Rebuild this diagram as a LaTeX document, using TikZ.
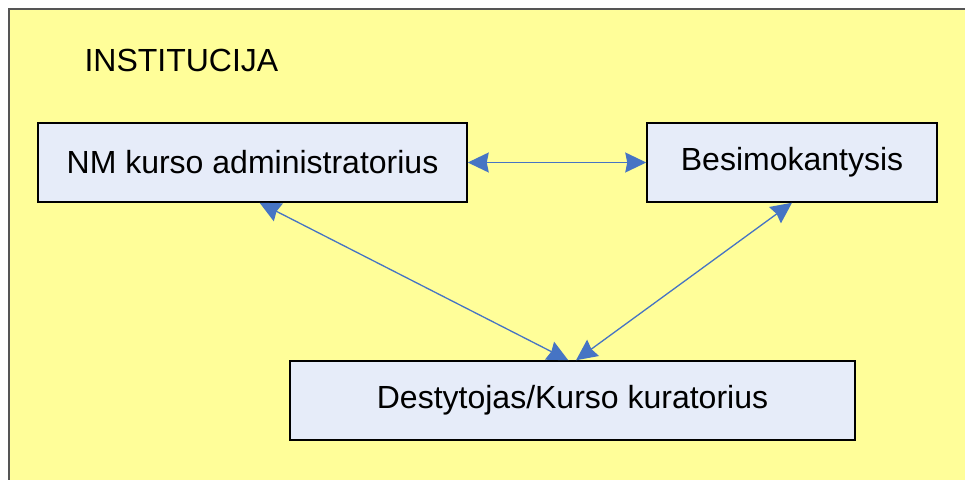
\documentclass[tikz,border=0pt]{standalone}
\usepackage{fontspec}
\setmainfont{Liberation Sans}
\usetikzlibrary{arrows.meta}
\definecolor{instyellow}{RGB}{255, 254, 153}
\definecolor{boxblue}{RGB}{230, 236, 249}
\definecolor{arrowblue}{RGB}{70, 116, 196}
\definecolor{frame}{RGB}{85, 85, 85}

\tikzset{
    role/.style={draw=black, line width=1.5pt, fill=boxblue, inner sep=0pt,
        minimum height=79pt, font=\fontsize{32}{38}\selectfont},
    link/.style={arrowblue, line width=1.3pt,
        {Stealth[length=21pt, width=20pt, inset=2pt]}-{Stealth[length=21pt, width=20pt, inset=2pt]}}
}

\begin{document}
\begin{tikzpicture}[x=1pt, y=-1pt]
    \clip (0,0) rectangle (965,479);
    % Institution background
    \draw[frame, line width=2pt, fill=instyellow] (9,9) rectangle (975,490);
    \node[anchor=west, font=\fontsize{32}{38}\selectfont] (inst) at (81,60) {INSTITUCIJA};

    % Roles
    \node[role, minimum width=429pt] (admin) at (252.5,162.5) {NM kurso administratorius};
    \node[role, minimum width=290pt] (student) at (792,162.5) {Besimokantysis};
    \node[role, minimum width=565pt] (teacher) at (572.5,400.5) {Destytojas/Kurso kuratorius};

    % Links
    \draw[link] (admin.east) -- (student.west);
    \draw[link] (admin.-80) -- (teacher.96);
    \draw[link] (student.south) -- (teacher.85);
\end{tikzpicture}
\end{document}
